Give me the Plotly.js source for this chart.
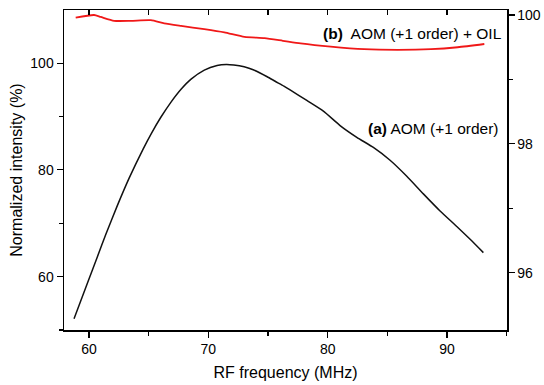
<!DOCTYPE html>
<html>
<head>
<meta charset="utf-8">
<script src="https://cdn.plot.ly/plotly-3.0.1.min.js"></script>
<style>html,body{margin:0;padding:0;background:#fff;}#chart{width:544px;height:385px;}</style>
</head>
<body>
<div id="chart"></div>
<script>
// (a) AOM (+1 order) — left axis
var freqA = [58.74, 59.86, 60.70, 61.40, 62.37, 63.35, 64.53, 65.24, 66.03, 66.87, 67.71, 68.55, 69.66, 70.73, 71.50, 72.13, 73.00, 73.81, 74.93, 75.60, 76.33, 76.85, 78.25, 79.64, 81.04, 82.44, 83.83, 85.23, 86.63, 88.02, 89.42, 90.82, 91.94, 93.05];
var intensityA = [52.10, 58.75, 63.73, 67.90, 73.30, 78.40, 83.90, 86.90, 89.90, 92.70, 95.10, 97.00, 98.70, 99.55, 99.75, 99.65, 99.30, 98.70, 97.45, 96.60, 95.70, 95.00, 93.00, 91.00, 88.30, 86.10, 84.20, 81.80, 78.80, 75.50, 72.30, 69.40, 67.00, 64.50];
// (b) AOM (+1 order) + OIL — right axis
var freqB = [58.88, 60.42, 60.98, 62.10, 63.50, 65.18, 66.30, 67.71, 69.66, 71.34, 73.03, 74.71, 76.24, 77.73, 80.25, 83.05, 85.86, 88.66, 90.90, 93.13];
var intensityB = [99.96, 100.0, 99.97, 99.91, 99.91, 99.92, 99.87, 99.83, 99.78, 99.73, 99.66, 99.64, 99.60, 99.56, 99.51, 99.47, 99.46, 99.47, 99.50, 99.55];

var xTickVals = [60, 70, 80, 90];
var yLeftTicks = [60, 80, 100];
var yRightTicks = [96, 98, 100];

var FONT = 'Arial, "Liberation Sans", sans-serif';

var traces = [
  {x: freqA, y: intensityA, type: 'scatter', mode: 'lines', xaxis: 'x', yaxis: 'y',
   line: {color: '#111111', width: 1.5, shape: 'spline', smoothing: 0.6}, showlegend: false, hoverinfo: 'skip'},
  {x: freqB, y: intensityB, type: 'scatter', mode: 'lines', xaxis: 'x2', yaxis: 'y2',
   line: {color: '#f01818', width: 1.8, shape: 'spline', smoothing: 0.6}, showlegend: false, hoverinfo: 'skip'}
];

var layout = {
  width: 544, height: 385,
  margin: {l: 64, r: 37, t: 10, b: 55},
  paper_bgcolor: '#ffffff', plot_bgcolor: '#ffffff',
  font: {family: FONT, color: '#000', size: 14},
  showlegend: false,
  xaxis: {
    range: [57.9, 95.03], showgrid: false, zeroline: false,
    showline: true, linecolor: '#000', linewidth: 1.5,
    ticks: 'outside', ticklen: 6, tickwidth: 1.2, tickcolor: '#000',
    tickmode: 'array', tickvals: xTickVals, ticktext: xTickVals.map(String),
    minor: {dtick: 5, tick0: 0, ticks: 'outside', ticklen: 4, tickwidth: 1.2, tickcolor: '#000', showgrid: false},
    tickfont: {size: 14, family: FONT},
    title: {text: 'RF frequency (MHz)', font: {size: 16, family: FONT}, standoff: 10}
  },
  xaxis2: {
    overlaying: 'x', side: 'top', matches: 'x', range: [57.9, 95.03],
    showgrid: false, zeroline: false, showline: true, linecolor: '#000', linewidth: 1.5,
    ticks: 'inside', ticklen: 5, tickwidth: 1.2, tickcolor: '#000',
    dtick: 5, tick0: 0, showticklabels: false
  },
  yaxis: {
    range: [50, 109.95], showgrid: false, zeroline: false,
    showline: true, linecolor: '#000', linewidth: 1.5,
    ticks: 'outside', ticklen: 6, tickwidth: 1.2, tickcolor: '#000',
    tickmode: 'array', tickvals: yLeftTicks, ticktext: yLeftTicks.map(String),
    minor: {dtick: 10, tick0: 0, ticks: 'outside', ticklen: 4, tickwidth: 1.2, tickcolor: '#000', showgrid: false},
    tickfont: {size: 14, family: FONT},
    title: {text: 'Normalized intensity (%)', font: {size: 16, family: FONT}, standoff: 3}
  },
  yaxis2: {
    overlaying: 'y', side: 'right', range: [95.11, 100.078],
    showgrid: false, zeroline: false, showline: true, linecolor: '#000', linewidth: 1.5,
    ticks: 'outside', ticklen: 6, tickwidth: 1.2, tickcolor: '#000',
    tickmode: 'array', tickvals: yRightTicks, ticktext: yRightTicks.map(String),
    minor: {dtick: 1, tick0: 0, ticks: 'outside', ticklen: 4, tickwidth: 1.2, tickcolor: '#000', showgrid: false},
    tickfont: {size: 14, family: FONT}
  },
  annotations: [
    {x: 87.07, y: 105.6, xref: 'x', yref: 'y', xanchor: 'center', yanchor: 'middle', showarrow: false,
     text: '<b>(b)</b>&nbsp; AOM (+1 order) + OIL', font: {size: 15.5, family: FONT, color: '#000'}},
    {x: 88.86, y: 87.83, xref: 'x', yref: 'y', xanchor: 'center', yanchor: 'middle', showarrow: false,
     text: '<b>(a)</b> AOM (+1 order)', font: {size: 15.5, family: FONT, color: '#000'}}
  ]
};

Plotly.newPlot('chart', traces, layout, {staticPlot: true, displayModeBar: false});
</script>
</body>
</html>
